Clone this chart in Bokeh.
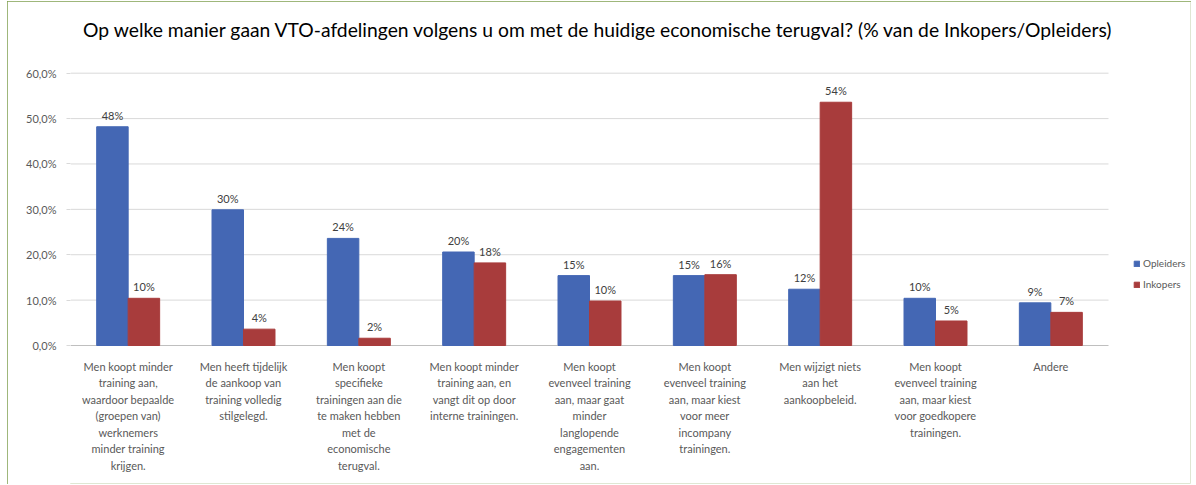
from bokeh.plotting import figure
from bokeh.models import Range1d, Legend, LegendItem, FixedTicker, ColumnDataSource
from bokeh.core.properties import value
from bokeh.embed import file_html
from bokeh.resources import INLINE

categories = [
    "Men koopt minder\ntraining aan,\nwaardoor bepaalde\n(groepen van)\nwerknemers\nminder training\nkrijgen.",
    "Men heeft tijdelijk\nde aankoop van\ntraining volledig\nstilgelegd.",
    "Men koopt\nspecifieke\ntrainingen aan die\nte maken hebben\nmet de\neconomische\nterugval.",
    "Men koopt minder\ntraining aan, en\nvangt dit op door\ninterne trainingen.",
    "Men koopt\nevenveel training\naan, maar gaat\nminder\nlanglopende\nengagementen\naan.",
    "Men koopt\nevenveel training\naan, maar kiest\nvoor meer\nincompany\ntrainingen.",
    "Men wijzigt niets\naan het\naankoopbeleid.",
    "Men koopt\nevenveel training\naan, maar kiest\nvoor goedkopere\ntrainingen.",
    "Andere",
]
opleiders = [48.2, 29.9, 23.6, 20.6, 15.4, 15.4, 12.4, 10.4, 9.4]
inkopers = [10.4, 3.6, 1.6, 18.2, 9.8, 15.6, 53.6, 5.4, 7.3]
opleiders_labels = ["48%", "30%", "24%", "20%", "15%", "15%", "12%", "10%", "9%"]
inkopers_labels = ["10%", "4%", "2%", "18%", "10%", "16%", "54%", "5%", "7%"]
y_ticks = [0, 10, 20, 30, 40, 50, 60]
y_tick_labels = ["0,0%", "10,0%", "20,0%", "30,0%", "40,0%", "50,0%", "60,0%"]
series_names = ["Opleiders", "Inkopers"]
title = "Op welke manier gaan VTO-afdelingen volgens u om met de huidige economische terugval? (% van de Inkopers/Opleiders)"

# ---- layout constants (pixels, figure coordinates) ----
BLUE = "#4467B4"
RED = "#A83C3C"
W, H = 1184, 483
LEFT, RIGHT, TOP, BOTTOM = 63, 1, 1, 1
PLOT_W = 1038            # width of the category area (legend sits to its right)
Y_MAX_PX = 71.7          # where the top tick sits
Y_ZERO_PX = 344.0        # where the zero line sits
TITLE_PX = 27.5          # vertical centre of the title
FRAME_W = W - LEFT - RIGHT
bw = 0.273

n = len(categories)
ymax = y_ticks[-1]
ppu = (Y_ZERO_PX - Y_MAX_PX) / ymax            # pixels per percent
y_top = ymax + (Y_MAX_PX - TOP) / ppu
y_bottom = -((H - BOTTOM) - Y_ZERO_PX) / ppu
y_title = ymax + (Y_MAX_PX - TITLE_PX) / ppu

centers = [i + 0.5 for i in range(n)]
x_op = [c - bw / 2 for c in centers]
x_ink = [c + bw / 2 for c in centers]

src = ColumnDataSource(dict(xo=x_op, xi=x_ink, op=opleiders, ink=inkopers,
                            opl=opleiders_labels, inkl=inkopers_labels))

p = figure(x_range=Range1d(0, n * FRAME_W / PLOT_W), y_range=Range1d(y_bottom, y_top),
           width=W, height=H, output_backend="svg", toolbar_location=None,
           min_border_left=LEFT, min_border_right=RIGHT, min_border_top=TOP,
           min_border_bottom=BOTTOM)
p.styles = {"margin-left": "7px", "margin-top": "1px",
            "outline": "1px solid #7F9F4F", "outline-offset": "-1px"}
p.title.visible = False

# title
p.text(x=[n / 2], y=[y_title], text=[title], text_align="center", text_baseline="middle",
       x_offset=9, text_font=value("Lato"), text_font_size="19.3px", text_color="#000000")

# horizontal gridlines over the category area only (zero line = axis)
p.segment(x0=[0] * len(y_ticks), x1=[n] * len(y_ticks), y0=y_ticks, y1=y_ticks,
          line_color=["#BFBFBF" if t == 0 else "#D9D9D9" for t in y_ticks], line_width=1)

r1 = p.vbar(x="xo", top="op", width=bw, source=src, fill_color=BLUE, line_color=BLUE)
r2 = p.vbar(x="xi", top="ink", width=bw, source=src, fill_color=RED, line_color=RED)

p.text(x="xo", y="op", text="opl", source=src,
       text_align="center", text_baseline="bottom", y_offset=-5,
       text_font=value("Lato"), text_font_size="11px", text_color="#404040")
p.text(x="xi", y="ink", text="inkl", source=src,
       text_align="center", text_baseline="bottom", y_offset=-5,
       text_font=value("Lato"), text_font_size="11px", text_color="#404040")

# category labels under the zero line
p.text(x=centers, y=[0] * n, text=categories, text_align="center", text_baseline="top",
       y_offset=14, text_line_height=1.27,
       text_font=value("Lato"), text_font_size="11px", text_color="#595959")

p.xgrid.grid_line_color = None
p.ygrid.grid_line_color = None
p.outline_line_color = None
p.xaxis.visible = False

p.yaxis.ticker = FixedTicker(ticks=y_ticks)
p.yaxis.major_label_overrides = {t: l for t, l in zip(y_ticks, y_tick_labels)}
p.yaxis.axis_line_color = None
p.yaxis.major_tick_in = 0
p.yaxis.major_tick_out = 4
p.yaxis.major_tick_line_color = "#D9D9D9"
p.yaxis.minor_tick_line_color = None
p.yaxis.major_label_text_font = "Lato"
p.yaxis.major_label_text_font_size = "11px"
p.yaxis.major_label_text_color = "#595959"
p.yaxis.major_label_standoff = 10

legend = Legend(items=[LegendItem(label=series_names[0], renderers=[r1]),
                       LegendItem(label=series_names[1], renderers=[r2])],
                location=(PLOT_W + 25, 192), padding=2, margin=0, spacing=7,
                glyph_width=7, glyph_height=7, label_height=14, label_standoff=3,
                label_text_font="Lato", label_text_font_size="10px",
                label_text_color="#595959", border_line_color=None,
                background_fill_alpha=0)
p.add_layout(legend)

open("out.html", "w").write(file_html(p, INLINE))
